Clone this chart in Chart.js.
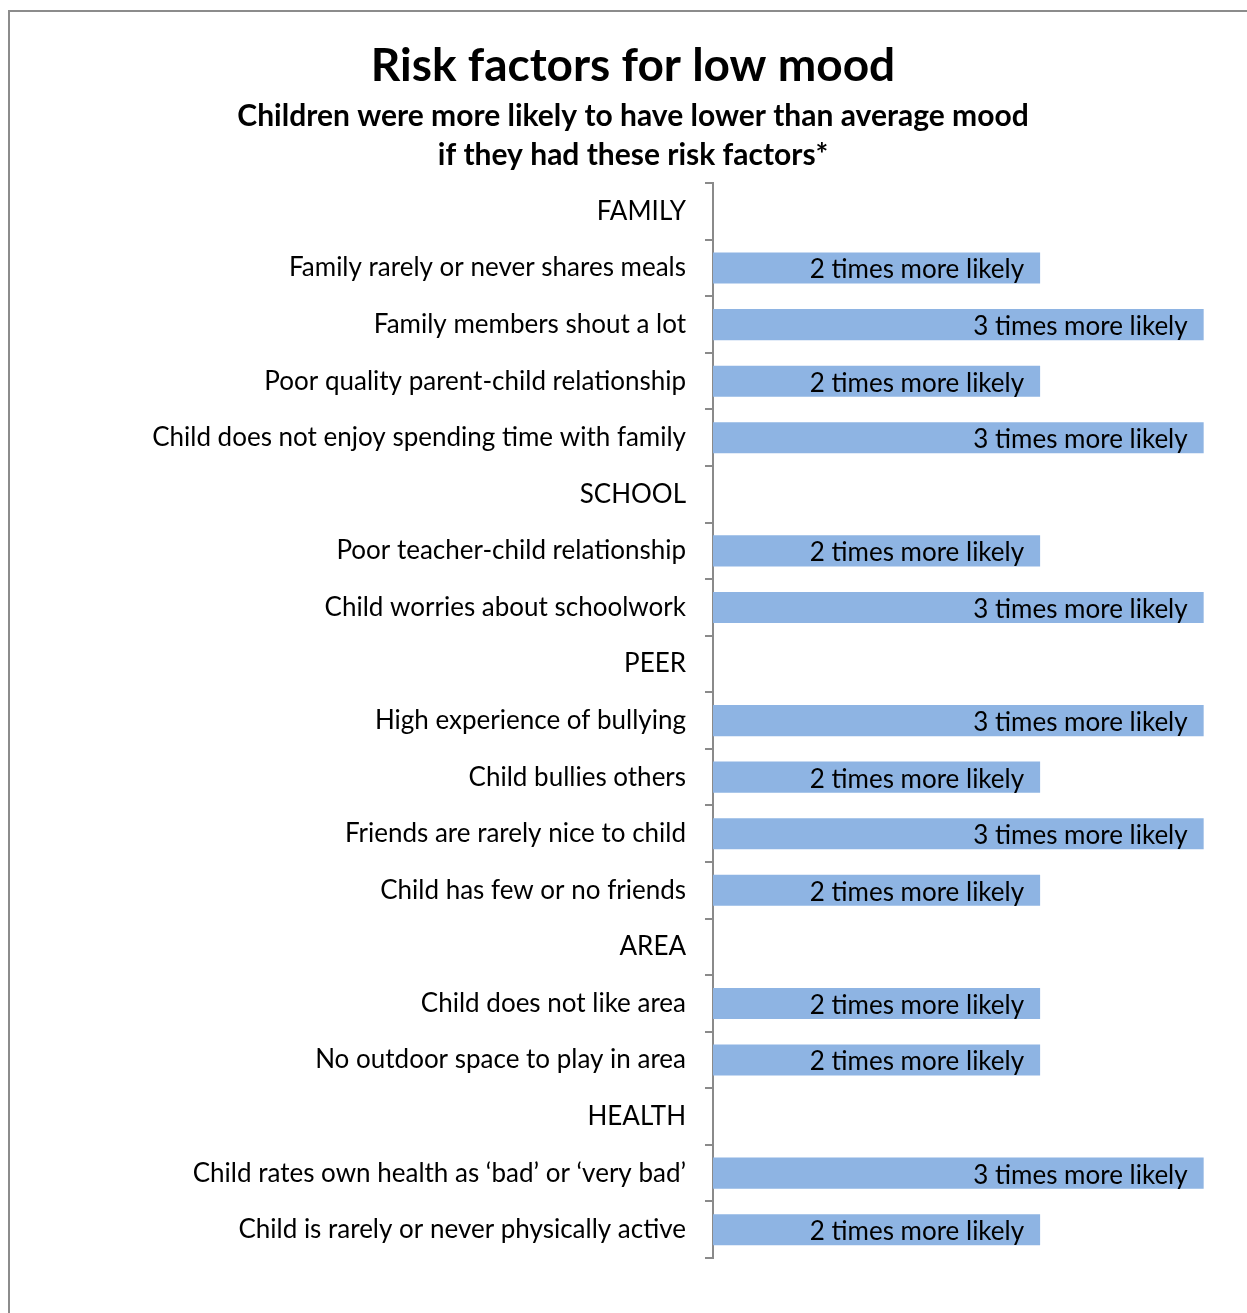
<!DOCTYPE html>
<html>
<head>
<meta charset="utf-8">
<script src="https://cdn.jsdelivr.net/npm/chart.js@4/dist/chart.umd.min.js"></script>
<style>
  html, body { margin: 0; padding: 0; background: #fff; overflow: hidden; }
  #frame {
    position: absolute; left: 8px; top: 10px;
    width: 1248px; height: 1320px;
    border: 2px solid #8c8c8c; background: #fff;
  }
  #chart { display: block; }
</style>
</head>
<body>
<div id="frame"><canvas id="chart" width="1246" height="1301"></canvas></div>
<script>
// Risk factors, grouped under their heading rows (heading rows carry no bar)
const categories = [
  "FAMILY",
  "Family rarely or never shares meals",
  "Family members shout a lot",
  "Poor quality parent-child relationship",
  "Child does not enjoy spending time with family",
  "SCHOOL",
  "Poor teacher-child relationship",
  "Child worries about schoolwork",
  "PEER",
  "High experience of bullying",
  "Child bullies others",
  "Friends are rarely nice to child",
  "Child has few or no friends",
  "AREA",
  "Child does not like area",
  "No outdoor space to play in area",
  "HEALTH",
  "Child rates own health as \u2018bad\u2019 or \u2018very bad\u2019",
  "Child is rarely or never physically active"
];

// How many times more likely a child is to have lower than average mood
const timesMoreLikely = [
  null, 2, 3, 2, 3,
  null, 2, 3,
  null, 3, 2, 3, 2,
  null, 2, 2,
  null, 3, 2
];

const titleText = "Risk factors for low mood";
const subtitleLines = [
  "Children were more likely to have lower than average mood",
  "if they had these risk factors*"
];

const FONT = "Lato, 'Open Sans', sans-serif";

// Writes "N times more likely" inside the end of each bar
const barLabels = {
  id: 'barLabels',
  afterDatasetsDraw(chart) {
    const ctx = chart.ctx;
    const meta = chart.getDatasetMeta(0);
    ctx.save();
    ctx.font = "26px " + FONT;
    ctx.fillStyle = "#000";
    ctx.textAlign = "right";
    ctx.textBaseline = "middle";
    meta.data.forEach((bar, i) => {
      const v = chart.data.datasets[0].data[i];
      if (v == null) return;
      ctx.fillText(v + " times more likely", bar.x - 16, bar.y + 2);
    });
    ctx.restore();
  }
};

new Chart(document.getElementById('chart'), {
  type: 'bar',
  data: {
    labels: categories,
    datasets: [{
      data: timesMoreLikely,
      backgroundColor: '#8eb4e3',
      borderWidth: 0,
      categoryPercentage: 1,
      barPercentage: 0.55
    }]
  },
  options: {
    indexAxis: 'y',
    responsive: false,
    animation: false,
    devicePixelRatio: 1,
    layout: { padding: { left: 0, right: 0, top: 0, bottom: 55 } },
    plugins: {
      legend: { display: false },
      tooltip: { enabled: false },
      title: {
        display: true,
        text: titleText,
        color: '#000',
        font: { family: FONT, size: 46, weight: 'bold', lineHeight: 1.2 },
        padding: { top: 27, bottom: 3 }
      },
      subtitle: {
        display: true,
        text: subtitleLines,
        color: '#000',
        font: { family: FONT, size: 30, weight: 'bold', lineHeight: 1.3 },
        padding: { top: 0, bottom: 8 }
      }
    },
    scales: {
      x: {
        display: false,
        min: 0,
        max: 3.32
      },
      y: {
        afterFit(scale) { scale.width = 703; },
        grid: {
          display: true,
          offset: true,
          drawOnChartArea: false,
          drawTicks: true,
          tickLength: 8,
          color: '#8a8a8a',
          lineWidth: 2
        },
        border: { display: true, color: '#8a8a8a', width: 2 },
        ticks: {
          color: '#000',
          padding: 19,
          autoSkip: false,
          font: { family: FONT, size: 26 }
        }
      }
    }
  },
  plugins: [barLabels]
});
</script>
</body>
</html>
